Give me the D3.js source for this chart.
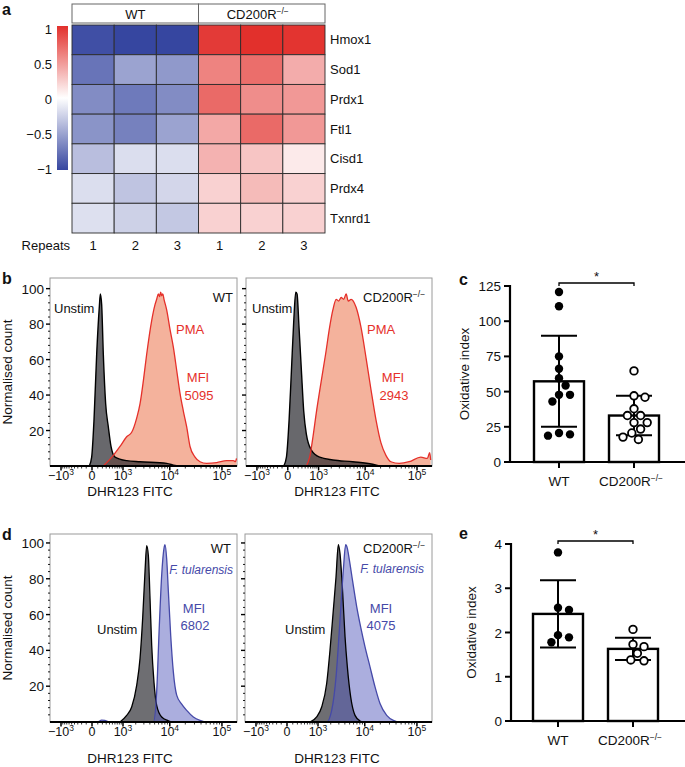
<!DOCTYPE html>
<html><head><meta charset="utf-8">
<script src="https://cdn.jsdelivr.net/npm/d3@7"></script>
<style>
body{margin:0;background:#fff}
text{font-family:"Liberation Sans",Arial,Helvetica,sans-serif;fill:#111}
</style>
</head><body>
<svg id="fig" width="685" height="767"></svg>
<script>
// ---------------- DATA ----------------
// panel a: heatmap
const genes = ["Hmox1","Sod1","Prdx1","Ftl1","Cisd1","Prdx4","Txnrd1"];
const heatGroups = ["WT","CD200R"];
const repeatLabels = ["1","2","3","1","2","3"];
const heatValues = [
  [-0.95,-1.00,-1.00, 0.95, 1.00, 0.98],
  [-0.75,-0.50,-0.55, 0.60, 0.70, 0.40],
  [-0.62,-0.72,-0.62, 0.72, 0.55, 0.50],
  [-0.58,-0.68,-0.50, 0.42, 0.72, 0.50],
  [-0.35,-0.18,-0.18, 0.37, 0.28, 0.10],
  [-0.18,-0.32,-0.22, 0.22, 0.33, 0.22],
  [-0.17,-0.25,-0.30, 0.22, 0.22, 0.22]
];
const colorbarTicks = [1, 0.5, 0, -0.5, -1];
const colorbarLabels = ["1","0.5","0","\u22120.5","\u22121"];

// flow histograms: [DHR123 FITC intensity, normalised count]
const bUnstimWT = [[-44,0],[-5,5],[32,26],[79,63],[132,90],[153,97],[183,91],[223,63],[285,35],[363,22],[451,11],[603,5],[1234,3],[2481,2.4],[8695,1.5],[12650,0.3],[15000,0]];
const bPmaWT = [[223,0],[536,6],[835,11],[1234,16.5],[1620,19],[2099,27],[2481,35],[2924,48],[3436,63],[4357,82],[5093,91],[5500,94],[5940,97],[6300,95.5],[6600,98],[6926,96],[7300,97],[7700,94],[8695,88],[10110,77],[11740,67],[13630,54],[15820,41],[18340,31],[21270,22],[24650,11],[30730,5],[38290,2.4],[51270,1.5],[79450,1.9],[123000,3],[164500,3],[180000,2.5],[189000,4.3]];
const bUnstimKO = [[-67,0],[-21,5],[21,26],[61,54],[105,82],[146,98],[175,97],[223,78],[285,54],[353,31],[439,18],[631,9],[1061,5],[2170,3.4],[5670,2.4],[14040,1],[18900,0]];
const bPmaKO = [[439,0],[562,5],[705,16.5],[870,30],[1167,48],[1482,63],[1830,78],[2170,88],[2565,94],[2900,93],[3274,95],[3700,94],[4155,97],[4600,93],[5250,94],[6615,89.5],[8313,78],[10420,61],[13030,43],[16300,26],[20350,13],[25360,6],[31640,2.4],[45630,1.5],[70700,2.4],[117800,5],[157500,4.3],[174600,7.5],[182000,3.4]];
const dUnstimWT = [[835,0],[1234,3.7],[1620,8.4],[2099,20.5],[2481,35.4],[2830,58],[3170,84],[3436,98.5],[3720,93],[4030,69],[4357,43],[4860,22],[5500,9.3],[6926,2.8],[9380,0.7],[10900,0]];
const dFtWT = [[-1830,0],[100,0],[180,1],[260,0.9],[380,0],[4712,0],[5500,16.8],[6220,54],[6926,82],[7700,97],[8060,99],[8695,91],[9380,73],[10420,48.5],[11740,28],[13630,15],[17040,10],[21270,6.5],[28530,2.8],[38290,0.9],[51270,0],[193000,0]];
const dUnstimKO = [[603,0],[924,2.8],[1234,8.4],[1620,21.5],[1925,40],[2283,62.6],[2608,81],[2924,99],[3170,94],[3605,72],[4030,47.7],[4495,30.8],[5250,14],[6416,3.7],[8060,0.6],[9380,0]];
const dFtKO = [[-1830,0],[1620,0],[2099,6.5],[2608,25],[3170,57],[3720,85],[4155,99],[4495,97],[4935,90.6],[5760,78.5],[6926,64.5],[8313,53],[10110,42],[12650,30.8],[15820,19.6],[19740,10.3],[26540,3.7],[35560,0.9],[47660,0],[193000,0]];
const flowXTicks = [-1000, 0, 1000, 10000, 100000];
const flowXTickLabels = [["\u221210","3"],["0",""],["10","3"],["10","4"],["10","5"]];
const flowYTicks = [20, 40, 60, 80, 100];
const mfiB = ["5095","2943"];
const mfiD = ["6802","4075"];

// panel c / e: oxidative index
const barGroups = ["WT","CD200R"];
const cWT = [120.7,110.6,75,66.2,59.5,54.3,47.7,47.7,43,20.6,19.6,18.7];
const cKO = [64.7,47,46,37.8,33,33,28,28,23.4,20.6,17.7,16];
const cMean = [57.3, 33.0];
const cSD = [32.3, 14.0];
const cYTicks = [0,25,50,75,100,125];
const eWT = [3.81,2.56,2.51,1.94,1.89,1.78];
const eKO = [2.07,1.73,1.68,1.53,1.38,1.36];
const eMean = [2.42, 1.63];
const eSD = [0.76, 0.25];
const eYTicks = [0,1,2,3,4];

// ---------------- DRAWING ----------------
const svg = d3.select("#fig");
const FS = 12.5;

function txt(g, x, y, s, o = {}) {
  const t = g.append("text").attr("x", x).attr("y", y)
    .attr("font-size", o.size || FS)
    .attr("text-anchor", o.anchor || "start")
    .text(s);
  if (o.fill) t.style("fill", o.fill);
  if (o.weight) t.attr("font-weight", o.weight);
  if (o.italic) t.attr("font-style", "italic");
  if (o.rotate) t.attr("transform", `rotate(${o.rotate},${x},${y})`);
  return t;
}
function koText(g, x, y, o = {}) {
  const t = txt(g, x, y, "CD200R", o);
  t.append("tspan").attr("dy", -5).attr("font-size", 8.5).text("\u2212/\u2212");
  return t;
}
function letter(x, y, s) { txt(svg, x, y, s, {size: 16, weight: "bold"}); }

// ===== Panel a =====
letter(2, 15, "a");
const ga = svg.append("g");
const hx = d3.scaleBand().domain(d3.range(6)).range([72, 325]);
const hy = d3.scaleBand().domain(genes).range([25, 233]);
const hColor = d3.scaleLinear().domain([-1, 0, 1]).range(["#3646a0", "#ffffff", "#e2302c"]);

heatValues.forEach((row, i) => row.forEach((v, j) => {
  ga.append("rect").attr("x", hx(j)).attr("y", hy(genes[i]))
    .attr("width", hx.bandwidth()).attr("height", hy.bandwidth())
    .attr("fill", hColor(v)).attr("stroke", "#2b2b2b").attr("stroke-width", 0.9);
}));
// header
heatGroups.forEach((gname, k) => {
  const x0 = hx(k * 3), x1 = hx(k * 3 + 2) + hx.bandwidth();
  ga.append("rect").attr("x", x0).attr("y", 4).attr("width", x1 - x0).attr("height", 19)
    .attr("fill", "#fff").attr("stroke", "#666").attr("stroke-width", 1);
  if (gname === "WT") txt(ga, (x0 + x1) / 2, 18.5, "WT", {anchor: "middle", size: 13});
  else koText(ga, (x0 + x1) / 2 - 4, 18.5, {anchor: "middle", size: 13});
});
genes.forEach(gn => txt(ga, 330, hy(gn) + hy.bandwidth() / 2 + 4.5, gn, {size: 13}));
txt(ga, 70, 250, "Repeats", {anchor: "end", size: 13});
repeatLabels.forEach((r, j) => txt(ga, hx(j) + hx.bandwidth() / 2, 250, r, {anchor: "middle", size: 13}));
// colour bar
const cbY = d3.scaleLinear().domain([1, -1]).range([29, 169]);
const defs = svg.append("defs");
const grad = defs.append("linearGradient").attr("id", "cbg").attr("x1", 0).attr("y1", 0).attr("x2", 0).attr("y2", 1);
d3.range(0, 1.0001, 0.1).forEach(t => grad.append("stop").attr("offset", t).attr("stop-color", hColor(1 - 2 * t)));
ga.append("rect").attr("x", 57).attr("y", 26).attr("width", 11).attr("height", 144).attr("fill", "url(#cbg)");
colorbarTicks.forEach((v, i) => txt(ga, 52, cbY(v) + 4.5, colorbarLabels[i], {anchor: "end", size: 13}));

// ===== Flow panels =====
const FLOW_DOMAIN = [-1830, 193000];
function flowPanel(cfg) {
  const g = svg.append("g");
  const x = d3.scaleSymlog().constant(350).domain(FLOW_DOMAIN).range([cfg.l, cfg.r]);
  const y = d3.scaleLinear().domain([0, cfg.ymax]).range([cfg.b, cfg.t]);
  const area = d3.area().x(d => x(d[0])).y0(y(0)).y1(d => y(d[1])).curve(d3.curveMonotoneX);
  const line = d3.line().x(d => x(d[0])).y(d => y(d[1])).curve(d3.curveMonotoneX);
  const clipId = "clip" + cfg.id;
  defs.append("clipPath").attr("id", clipId).append("rect")
    .attr("x", cfg.l).attr("y", cfg.t).attr("width", cfg.r - cfg.l).attr("height", cfg.b - cfg.t);
  g.append("rect").attr("x", cfg.l).attr("y", cfg.t).attr("width", cfg.r - cfg.l).attr("height", cfg.b - cfg.t)
    .attr("fill", "#fff").attr("stroke", "#9a9a9a").attr("stroke-width", 1);
  const pg = g.append("g").attr("clip-path", `url(#${clipId})`);
  if (cfg.mode === "pma") {
    pg.append("path").attr("d", area(cfg.stim)).attr("fill", "#f4b29c");
    pg.append("path").attr("d", area(cfg.unstim)).attr("fill", "rgba(40,40,46,0.7)");
    pg.append("path").attr("d", line(cfg.unstim)).attr("fill", "none").attr("stroke", "#000").attr("stroke-width", 1.4);
    pg.append("path").attr("d", line(cfg.stim)).attr("fill", "none").attr("stroke", "#e5302a").attr("stroke-width", 1.3);
  } else {
    pg.append("path").attr("d", area(cfg.unstim)).attr("fill", "#6e6e72");
    pg.append("path").attr("d", area(cfg.stim)).attr("fill", "rgba(88,94,190,0.5)");
    pg.append("path").attr("d", line(cfg.unstim)).attr("fill", "none").attr("stroke", "#000").attr("stroke-width", 1.3);
    pg.append("path").attr("d", line(cfg.stim)).attr("fill", "none").attr("stroke", "#4549a8").attr("stroke-width", 1.3);
  }
  // y ticks
  d3.range(4, 101, 4).forEach(v => {
    const major = v % 20 === 0;
    g.append("line").attr("x1", cfg.l - (major ? 4 : 2)).attr("x2", cfg.l).attr("y1", y(v)).attr("y2", y(v))
      .attr("stroke", "#000").attr("stroke-width", major ? 1.4 : 0.9);
  });
  if (cfg.yLabels) {
    flowYTicks.forEach(v => txt(g, cfg.l - 6, y(v) + 5, String(v), {anchor: "end", size: 13.5}));
    txt(g, cfg.l - 38, (cfg.t + cfg.b) / 2, "Normalised count", {anchor: "middle", rotate: -90, size: 13.5});
  }
  // x axis
  g.append("line").attr("x1", cfg.l).attr("x2", cfg.r).attr("y1", cfg.b).attr("y2", cfg.b)
    .attr("stroke", "#000").attr("stroke-width", 2);
  const minor = [];
  [1, 10, 100, 1000, 10000, 100000].forEach(dec => d3.range(1, 10).forEach(k => {
    const v = k * dec;
    if (v < FLOW_DOMAIN[1] && !flowXTicks.includes(v)) minor.push(v);
    if (-v > FLOW_DOMAIN[0] && !flowXTicks.includes(-v) && dec >= 100) minor.push(-v);
  }));
  minor.filter(v => Math.abs(v) >= 100).forEach(v => g.append("line").attr("x1", x(v)).attr("x2", x(v))
    .attr("y1", cfg.b).attr("y2", cfg.b + 2.5).attr("stroke", "#000").attr("stroke-width", 0.8));
  flowXTicks.forEach((v, i) => {
    g.append("line").attr("x1", x(v)).attr("x2", x(v)).attr("y1", cfg.b).attr("y2", cfg.b + 4.5)
      .attr("stroke", "#000").attr("stroke-width", 1.5);
    const lab = flowXTickLabels[i];
    const t = txt(g, x(v), cfg.b + 14, lab[0], {anchor: "middle", size: 12.5});
    if (lab[1]) t.append("tspan").attr("dy", -5.5).attr("font-size", 8.5).text(lab[1]);
  });
  txt(g, cfg.xTitleX, cfg.b + cfg.xTitleDy, "DHR123 FITC", {anchor: "middle", size: 13.5});
  return {g, x, y};
}

// ----- b -----
letter(2, 284, "b");
const b1 = flowPanel({id: "b1", l: 50, r: 237, t: 278, b: 466, ymax: 106, mode: "pma", stim: bPmaWT, unstim: bUnstimWT, yLabels: true, xTitleX: 130, xTitleDy: 30});
txt(b1.g, 54, 313, "Unstim", {size: 13});
txt(b1.g, 233, 302, "WT", {anchor: "end", size: 13});
txt(b1.g, 176, 334, "PMA", {fill: "#e5302a", size: 13});
txt(b1.g, 198, 382, "MFI", {anchor: "middle", fill: "#e5302a", size: 13});
txt(b1.g, 199, 400, mfiB[0], {anchor: "middle", fill: "#e5302a", size: 13});
const b2 = flowPanel({id: "b2", l: 246, r: 432, t: 278, b: 466, ymax: 106, mode: "pma", stim: bPmaKO, unstim: bUnstimKO, yLabels: false, xTitleX: 337, xTitleDy: 30});
txt(b2.g, 252, 313, "Unstim", {size: 13});
koText(b2.g, 363, 302, {size: 13});
txt(b2.g, 367, 334, "PMA", {fill: "#e5302a", size: 13});
txt(b2.g, 393, 382, "MFI", {anchor: "middle", fill: "#e5302a", size: 13});
txt(b2.g, 394, 400, mfiB[1], {anchor: "middle", fill: "#e5302a", size: 13});

// ----- d -----
letter(2, 540, "d");
const d1 = flowPanel({id: "d1", l: 50, r: 237, t: 534, b: 722, ymax: 105, mode: "ft", stim: dFtWT, unstim: dUnstimWT, yLabels: true, xTitleX: 130, xTitleDy: 41});
txt(d1.g, 231, 553, "WT", {anchor: "end", size: 13});
txt(d1.g, 233, 574, "F. tularensis", {anchor: "end", italic: true, fill: "#4549a8", size: 12});
txt(d1.g, 194, 613, "MFI", {anchor: "middle", fill: "#4549a8", size: 13});
txt(d1.g, 195, 630, mfiD[0], {anchor: "middle", fill: "#4549a8", size: 13});
txt(d1.g, 97, 634, "Unstim", {size: 13});
const d2 = flowPanel({id: "d2", l: 245, r: 432, t: 534, b: 722, ymax: 105, mode: "ft", stim: dFtKO, unstim: dUnstimKO, yLabels: false, xTitleX: 337, xTitleDy: 41});
koText(d2.g, 363, 553, {size: 13});
txt(d2.g, 424, 573, "F. tularensis", {anchor: "end", italic: true, fill: "#4549a8", size: 12});
txt(d2.g, 381, 613, "MFI", {anchor: "middle", fill: "#4549a8", size: 13});
txt(d2.g, 381, 630, mfiD[1], {anchor: "middle", fill: "#4549a8", size: 13});
txt(d2.g, 285, 634, "Unstim", {size: 13});

// ===== Bar panels =====
function swarm(vals, cx, y, r) {
  const placed = [];
  return vals.map(v => {
    const py = y(v);
    const cands = [0];
    for (let k = 1; k < 30; k++) cands.push(k * 2.2, -k * 2.2);
    let px = cx;
    for (const o of cands) {
      if (placed.every(p => Math.hypot(p.x - (cx + o), p.y - py) >= 2 * r + 1.2)) { px = cx + o; break; }
    }
    const pt = {x: px, y: py};
    placed.push(pt);
    return pt;
  });
}
function barPanel(cfg) {
  const g = svg.append("g");
  const x = d3.scaleBand().domain(barGroups).range([cfg.bx0, cfg.bx1]).paddingInner(1 / 3).paddingOuter(0);
  const y = d3.scaleLinear().domain([0, cfg.ymax]).range([cfg.b, cfg.t]);
  const sets = [cfg.wt, cfg.ko];
  barGroups.forEach((gn, i) => {
    g.append("rect").attr("x", x(gn)).attr("y", y(cfg.mean[i])).attr("width", x.bandwidth())
      .attr("height", y(0) - y(cfg.mean[i])).attr("fill", "#fff").attr("stroke", "#000").attr("stroke-width", 2.4);
  });
  barGroups.forEach((gn, i) => {
    const cx = x(gn) + x.bandwidth() / 2;
    const hi = y(cfg.mean[i] + cfg.sd[i]), lo = y(cfg.mean[i] - cfg.sd[i]);
    g.append("line").attr("x1", cx).attr("x2", cx).attr("y1", hi).attr("y2", lo).attr("stroke", "#000").attr("stroke-width", 2);
    [hi, lo].forEach(yy => g.append("line").attr("x1", cx - 18).attr("x2", cx + 18).attr("y1", yy).attr("y2", yy)
      .attr("stroke", "#000").attr("stroke-width", 2));
    const pts = swarm(sets[i], cx, y, 4);
    pts.forEach(p => g.append("circle").attr("cx", p.x).attr("cy", p.y).attr("r", i === 0 ? 4.2 : 3.8)
      .attr("fill", i === 0 ? "#000" : "#fff").attr("stroke", "#000").attr("stroke-width", i === 0 ? 0 : 1.8));
  });
  // axes
  g.append("line").attr("x1", cfg.ax).attr("x2", cfg.ax).attr("y1", y(cfg.ymax) - 1).attr("y2", cfg.b + 1).attr("stroke", "#000").attr("stroke-width", 2.2);
  g.append("line").attr("x1", cfg.ax - 1).attr("x2", 685).attr("y1", cfg.b).attr("y2", cfg.b).attr("stroke", "#000").attr("stroke-width", 2.2);
  cfg.ticks.forEach(v => {
    g.append("line").attr("x1", cfg.ax - 6).attr("x2", cfg.ax).attr("y1", y(v)).attr("y2", y(v)).attr("stroke", "#000").attr("stroke-width", 2);
    txt(g, cfg.ax - 9, y(v) + 5, String(v), {anchor: "end", size: 13.5});
  });
  barGroups.forEach(gn => {
    const cx = x(gn) + x.bandwidth() / 2;
    g.append("line").attr("x1", cx).attr("x2", cx).attr("y1", cfg.b).attr("y2", cfg.b + 6).attr("stroke", "#000").attr("stroke-width", 2);
  });
  const cWTx = x("WT") + x.bandwidth() / 2, cKOx = x("CD200R") + x.bandwidth() / 2;
  txt(g, cWTx, cfg.b + 24, "WT", {anchor: "middle", size: 13.5});
  koText(g, cKOx - 3, cfg.b + 24, {anchor: "middle", size: 13.5});
  txt(g, cfg.titleX, (cfg.t + cfg.b) / 2, "Oxidative index", {anchor: "middle", rotate: -90, size: 13.5});
  // significance bracket
  const by = cfg.t - 3;
  g.append("path").attr("d", `M${cWTx},${by + 3}V${by}H${cKOx}V${by + 3}`).attr("fill", "none").attr("stroke", "#000").attr("stroke-width", 1.3);
  txt(g, (cWTx + cKOx) / 2, by - 2, "*", {anchor: "middle", size: 13});
  return g;
}
letter(459, 285, "c");
barPanel({bx0: 534, bx1: 659, t: 286, b: 462, ax: 510, ymax: 125, wt: cWT, ko: cKO, mean: cMean, sd: cSD, ticks: cYTicks, titleX: 469});
letter(459, 539, "e");
barPanel({bx0: 533, bx1: 658, t: 544, b: 721, ax: 511, ymax: 4, wt: eWT, ko: eKO, mean: eMean, sd: eSD, ticks: eYTicks, titleX: 476});
</script>
</body></html>
